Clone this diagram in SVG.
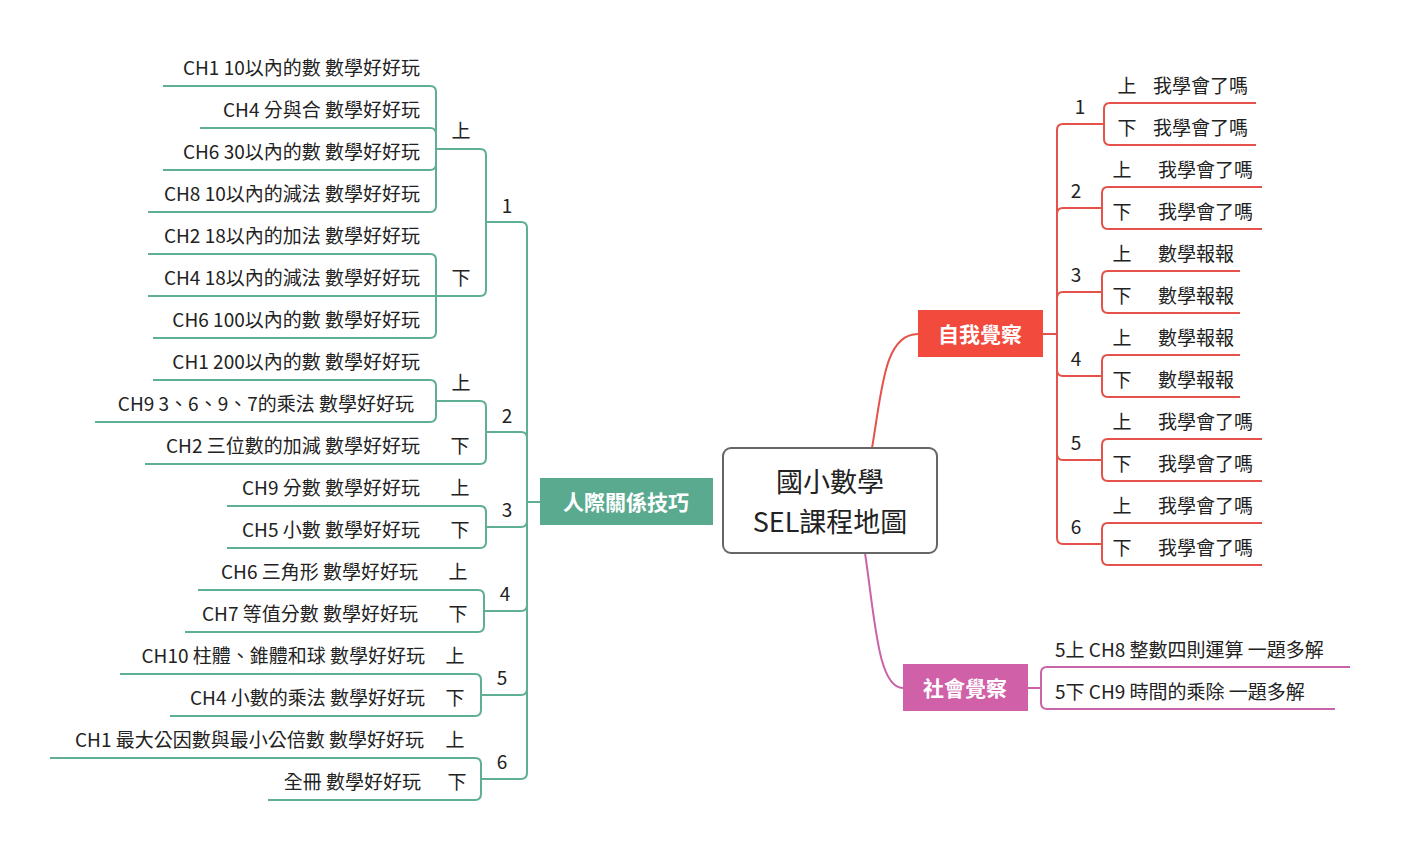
<svg xmlns="http://www.w3.org/2000/svg" width="1401" height="852" viewBox="0 0 1401 852">
<style>
text{font-family:"Noto Sans CJK TC","Noto Sans",sans-serif;font-size:19px;fill:#222}
.t path{stroke:#5fae96;stroke-width:2;fill:none}
.r path{stroke:#e5524a;stroke-width:2;fill:none}
.p path{stroke:#c964a8;stroke-width:2;fill:none}
.e{text-anchor:end}.m{text-anchor:middle}
.w{fill:#fff;font-weight:bold;font-size:21px;text-anchor:middle}
</style>
<rect width="1401" height="852" fill="#fff"/>
<g id="connectors">
<g class="t">
<path d="M163,86 H430 Q436,86 436,92 V149 M200,128 H430 Q436,128 436,134 V149 M163,170 H430 Q436,170 436,164 V149 M148,212 H430 Q436,212 436,206 V149 M436,149 H480 Q486,149 486,155 V222"/>
<path d="M148,254 H430 Q436,254 436,260 V296 M148,296 H436 M153,338 H430 Q436,338 436,332 V296 M436,296 H480 Q486,296 486,290 V222 M486,222 H521 Q527,222 527,228 V502"/>
<path d="M153,380 H430 Q436,380 436,386 V401 M95,422 H430 Q436,422 436,416 V401 M436,401 H480 Q486,401 486,407 V432 M145,464 H480 Q486,464 486,458 V432 M486,432 H521 Q527,432 527,438 V502"/>
<path d="M227,506 H480 Q486,506 486,512 V527 M227,548 H480 Q486,548 486,542 V527 M486,527 H521 Q527,527 527,521 V502"/>
<path d="M198,590 H478 Q484,590 484,596 V611 M185,632 H478 Q484,632 484,626 V611 M484,611 H521 Q527,611 527,605 V502"/>
<path d="M120,674 H475 Q481,674 481,680 V695 M170,716 H475 Q481,716 481,710 V695 M481,695 H521 Q527,695 527,689 V502"/>
<path d="M50,758 H475 Q481,758 481,764 V779 M268,800 H475 Q481,800 481,794 V779 M481,779 H521 Q527,779 527,773 V502 M527,502 H540"/>
</g>
<g class="r">
<path d="M872,448 C882,390 884,334 918,334 M1043,334 H1057"/>
<path d="M1256,103 H1110 Q1104,103 1104,109 V124 M1256,145 H1110 Q1104,145 1104,139 V124 M1104,124 H1063 Q1057,124 1057,130 V334"/>
<path d="M1262,187 H1108 Q1102,187 1102,193 V208 M1262,229 H1108 Q1102,229 1102,223 V208 M1102,208 H1063 Q1057,208 1057,214 V334"/>
<path d="M1240,271 H1108 Q1102,271 1102,277 V292 M1240,313 H1108 Q1102,313 1102,307 V292 M1102,292 H1063 Q1057,292 1057,298 V334"/>
<path d="M1240,355 H1108 Q1102,355 1102,361 V376 M1240,397 H1108 Q1102,397 1102,391 V376 M1102,376 H1063 Q1057,376 1057,370 V334"/>
<path d="M1262,439 H1108 Q1102,439 1102,445 V460 M1262,481 H1108 Q1102,481 1102,475 V460 M1102,460 H1063 Q1057,460 1057,454 V334"/>
<path d="M1262,523 H1108 Q1102,523 1102,529 V544 M1262,565 H1108 Q1102,565 1102,559 V544 M1102,544 H1063 Q1057,544 1057,538 V334"/>
</g>
<g class="p">
<path d="M865,553 C875,620 878,688 903,688 M1028,688 H1041 M1350,667 H1047 Q1041,667 1041,673 V688 M1335,709 H1047 Q1041,709 1041,703 V688"/>
</g>
</g>
<g id="root"><rect x="723" y="448" width="214" height="105" rx="8" fill="#fff" stroke="#666" stroke-width="2"/>
<text x="830" y="492" class="m" style="font-size:27px">國小數學</text><text x="830" y="532" class="m" style="font-size:27px">SEL課程地圖</text></g>
<g id="n-social-skill"><rect x="540" y="478" width="173" height="47" fill="#5aaa8f"/><text x="626" y="510" class="w">人際關係技巧</text></g>
<g id="n-self"><rect x="918" y="310" width="125" height="47" fill="#f24a3d"/><text x="980" y="342" class="w">自我覺察</text></g>
<g id="n-social"><rect x="903" y="664" width="125" height="47" fill="#d060a8"/><text x="965" y="696" class="w">社會覺察</text></g>
<g id="left-leaves">
<text x="420" y="75" class="e">CH1 10以內的數 數學好好玩</text>
<text x="420" y="117" class="e">CH4 分與合 數學好好玩</text>
<text x="420" y="159" class="e">CH6 30以內的數 數學好好玩</text>
<text x="420" y="201" class="e">CH8 10以內的減法 數學好好玩</text>
<text x="420" y="243" class="e">CH2 18以內的加法 數學好好玩</text>
<text x="420" y="285" class="e">CH4 18以內的減法 數學好好玩</text>
<text x="420" y="327" class="e">CH6 100以內的數 數學好好玩</text>
<text x="420" y="369" class="e">CH1 200以內的數 數學好好玩</text>
<text x="414" y="411" class="e">CH9 3、6、9、7的乘法 數學好好玩</text>
<text x="420" y="453" class="e">CH2 三位數的加減 數學好好玩</text>
<text x="420" y="495" class="e">CH9 分數 數學好好玩</text>
<text x="420" y="537" class="e">CH5 小數 數學好好玩</text>
<text x="418" y="579" class="e">CH6 三角形 數學好好玩</text>
<text x="418" y="621" class="e">CH7 等值分數 數學好好玩</text>
<text x="425" y="663" class="e">CH10 柱體、錐體和球 數學好好玩</text>
<text x="425" y="705" class="e">CH4 小數的乘法 數學好好玩</text>
<text x="424" y="747" class="e">CH1 最大公因數與最小公倍數 數學好好玩</text>
<text x="421" y="789" class="e">全冊  數學好好玩</text>
</g>
<g id="left-labels">
<text x="461" y="138" class="m">上</text><text x="461" y="285" class="m">下</text>
<text x="461" y="390" class="m">上</text><text x="460" y="453" class="m">下</text>
<text x="460" y="495" class="m">上</text><text x="460" y="537" class="m">下</text>
<text x="458" y="579" class="m">上</text><text x="458" y="621" class="m">下</text>
<text x="455" y="663" class="m">上</text><text x="455" y="705" class="m">下</text>
<text x="455" y="747" class="m">上</text><text x="457" y="789" class="m">下</text>
<text x="507" y="213" class="m">1</text><text x="507" y="423" class="m">2</text>
<text x="507" y="517" class="m">3</text><text x="505" y="601" class="m">4</text>
<text x="502" y="685" class="m">5</text><text x="502" y="769" class="m">6</text>
</g>
<g id="right-leaves">
<text x="1127" y="93" class="m">上</text><text x="1153" y="93">我學會了嗎</text>
<text x="1127" y="135" class="m">下</text><text x="1153" y="135">我學會了嗎</text>
<text x="1122" y="177" class="m">上</text><text x="1158" y="177">我學會了嗎</text>
<text x="1122" y="219" class="m">下</text><text x="1158" y="219">我學會了嗎</text>
<text x="1122" y="261" class="m">上</text><text x="1158" y="261">數學報報</text>
<text x="1122" y="303" class="m">下</text><text x="1158" y="303">數學報報</text>
<text x="1122" y="345" class="m">上</text><text x="1158" y="345">數學報報</text>
<text x="1122" y="387" class="m">下</text><text x="1158" y="387">數學報報</text>
<text x="1122" y="429" class="m">上</text><text x="1158" y="429">我學會了嗎</text>
<text x="1122" y="471" class="m">下</text><text x="1158" y="471">我學會了嗎</text>
<text x="1122" y="513" class="m">上</text><text x="1158" y="513">我學會了嗎</text>
<text x="1122" y="555" class="m">下</text><text x="1158" y="555">我學會了嗎</text>
<text x="1080" y="114" class="m">1</text><text x="1076" y="198" class="m">2</text>
<text x="1076" y="282" class="m">3</text><text x="1076" y="366" class="m">4</text>
<text x="1076" y="450" class="m">5</text><text x="1076" y="534" class="m">6</text>
<text x="1055" y="657">5上  CH8 整數四則運算 一題多解</text>
<text x="1055" y="699">5下  CH9 時間的乘除 一題多解</text>
</g>
</svg>
